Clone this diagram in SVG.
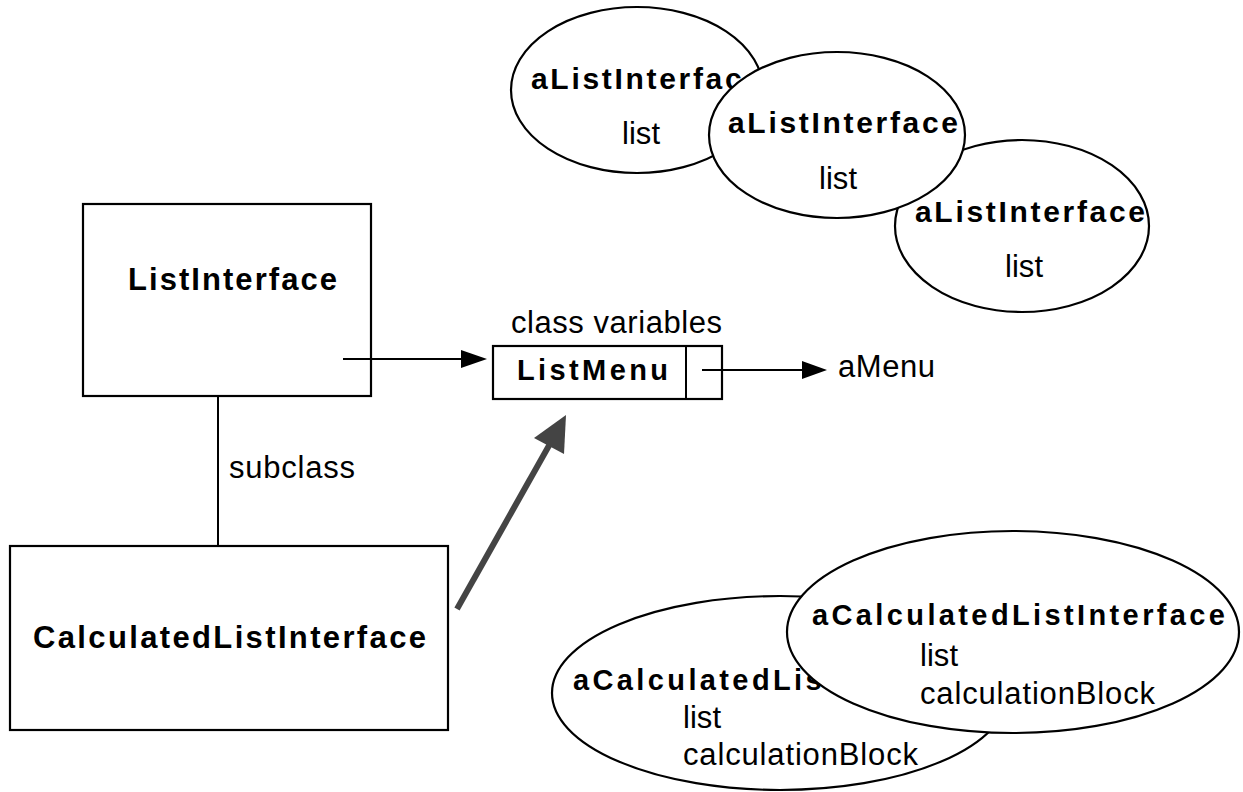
<svg xmlns="http://www.w3.org/2000/svg" width="1243" height="792" viewBox="0 0 1243 792">
<style>
.shape{fill:#fff;stroke:#000;stroke-width:2.2}
.b{font-family:"Liberation Sans",Arial,sans-serif;font-weight:bold;fill:#000}
.r{font-family:"Liberation Sans",Arial,sans-serif;fill:#000;font-size:31px}
.ln{stroke:#000;stroke-width:2;fill:none}
</style>
<rect width="1243" height="792" fill="#fff"/>
<g id="aListInterface1">
<ellipse class="shape" cx="637" cy="90" rx="126" ry="83"/>
<text class="b" x="531" y="89" font-size="30" textLength="230" lengthAdjust="spacing">aListInterface</text>
<text class="r" x="622" y="144" textLength="38" lengthAdjust="spacing">list</text>
</g>
<g id="aListInterface3">
<ellipse class="shape" cx="1022" cy="226" rx="127" ry="86"/>
<text class="b" x="915" y="222" font-size="30" textLength="230" lengthAdjust="spacing">aListInterface</text>
<text class="r" x="1005" y="277" textLength="38" lengthAdjust="spacing">list</text>
</g>
<g id="aListInterface2">
<ellipse class="shape" cx="837" cy="135" rx="128" ry="83"/>
<text class="b" x="728" y="133" font-size="30" textLength="230" lengthAdjust="spacing">aListInterface</text>
<text class="r" x="819" y="189" textLength="38" lengthAdjust="spacing">list</text>
</g>
<g id="ListInterface">
<rect class="shape" x="83" y="204" width="288" height="192"/>
<text class="b" x="128" y="290" font-size="31" textLength="209" lengthAdjust="spacing">ListInterface</text>
</g>
<g id="CalculatedListInterface">
<rect class="shape" x="10" y="546" width="438" height="184"/>
<text class="b" x="33" y="648" font-size="31" textLength="393" lengthAdjust="spacing">CalculatedListInterface</text>
</g>
<g id="ListMenu">
<text class="r" x="511" y="333" textLength="211" lengthAdjust="spacing">class variables</text>
<rect class="shape" x="493" y="346" width="229" height="53"/>
<line class="ln" x1="686" y1="346" x2="686" y2="399"/>
<text class="b" x="517" y="380" font-size="29" textLength="151" lengthAdjust="spacing">ListMenu</text>
</g>
<g id="aMenu">
<text class="r" x="838" y="377" textLength="97" lengthAdjust="spacing">aMenu</text>
</g>
<g id="aCalculatedListInterface1">
<ellipse class="shape" cx="780" cy="693" rx="228" ry="97"/>
<text class="b" x="573" y="690" font-size="29" textLength="413" lengthAdjust="spacing">aCalculatedListInterface</text>
<text class="r" x="683" y="728" textLength="38" lengthAdjust="spacing">list</text>
<text class="r" x="683" y="765" textLength="235" lengthAdjust="spacing">calculationBlock</text>
</g>
<g id="aCalculatedListInterface2">
<ellipse class="shape" cx="1013" cy="632" rx="226" ry="101"/>
<text class="b" x="812" y="625" font-size="29" textLength="413" lengthAdjust="spacing">aCalculatedListInterface</text>
<text class="r" x="920" y="666" textLength="38" lengthAdjust="spacing">list</text>
<text class="r" x="920" y="704" textLength="235" lengthAdjust="spacing">calculationBlock</text>
</g>
<g id="connectors">
<line class="ln" x1="343" y1="359" x2="463" y2="359"/>
<polygon points="487,359 461,350 461,368" fill="#000"/>
<line class="ln" x1="702" y1="370" x2="804" y2="370"/>
<polygon points="827,370 802,361 802,379" fill="#000"/>
<line class="ln" x1="218" y1="397" x2="218" y2="546"/>
<text class="r" x="229" y="478" textLength="126" lengthAdjust="spacing">subclass</text>
<line x1="457" y1="609" x2="551" y2="442" stroke="#444" stroke-width="6"/>
<polygon points="566,415 534,438 564,454" fill="#444"/>
</g>
</svg>
